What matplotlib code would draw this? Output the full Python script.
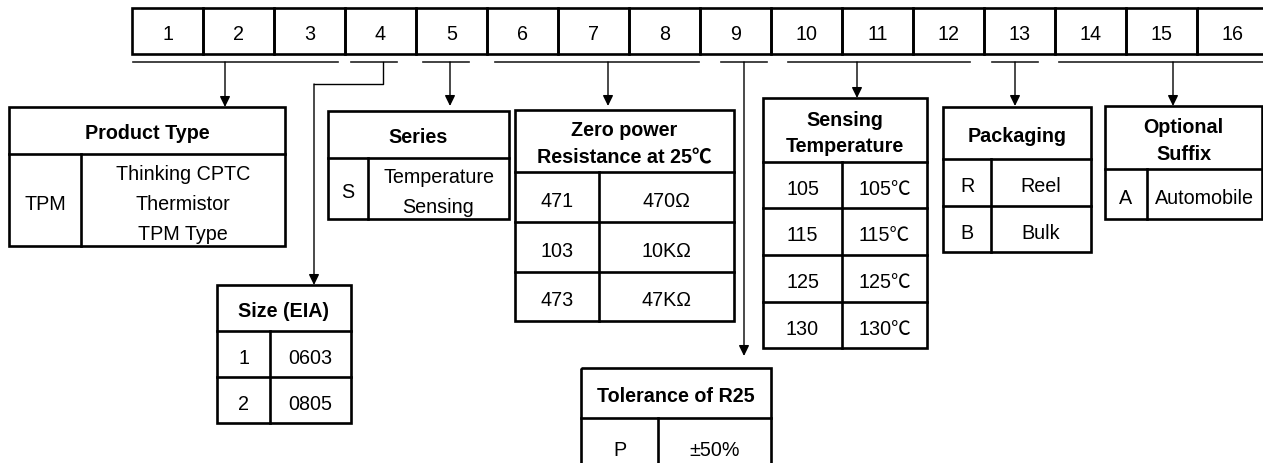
import matplotlib
matplotlib.use("Agg")
import matplotlib.pyplot as plt
from matplotlib.patches import Rectangle

# part number positions and how they group together
positions = ["1", "2", "3", "4", "5", "6", "7", "8",
             "9", "10", "11", "12", "13", "14", "15", "16"]
groups = [(1, 3), (4, 4), (5, 5), (6, 8), (9, 9), (10, 12), (13, 13), (14, 16)]

# table contents
product_title = "Product Type"
product_rows = [("TPM", "Thinking CPTC\nThermistor\nTPM Type")]
size_title = "Size (EIA)"
size_rows = [("1", "0603"), ("2", "0805")]
series_title = "Series"
series_rows = [("S", "Temperature\nSensing")]
resist_title = "Zero power\nResistance at 25\u2103"
resist_rows = [("471", "470\u03a9"), ("103", "10K\u03a9"), ("473", "47K\u03a9")]
tol_title = "Tolerance of R25"
tol_rows = [("P", "\u00b150%")]
temp_title = "Sensing\nTemperature"
temp_rows = [("105", "105\u2103"), ("115", "115\u2103"), ("125", "125\u2103"), ("130", "130\u2103")]
pack_title = "Packaging"
pack_rows = [("R", "Reel"), ("B", "Bulk")]
suffix_title = "Optional\nSuffix"
suffix_rows = [("A", "Automobile")]

plt.rcParams['font.family'] = ['Liberation Sans', 'Noto Sans CJK SC', 'DejaVu Sans']
FS = 14.2
LW = 1.9

fig = plt.figure(figsize=(12.63, 4.64), dpi=100)
ax = fig.add_axes([0, 0, 1, 1])
ax.set_xlim(0, 1263)
ax.set_ylim(464, 0)
ax.axis('off')


def put_lines(txt, x, y, gap, bold=False):
    lines = txt.split("\n")
    n = len(lines)
    for k, s in enumerate(lines):
        yy = y + (k - (n - 1) / 2) * gap
        ax.text(x, yy, s, ha='center', va='center_baseline', fontsize=FS,
                fontweight='bold' if bold else 'normal')


def draw_table(title, rows, x0, x1, xdiv, edges):
    top, bot = edges[0], edges[-1]
    ax.add_patch(Rectangle((x0, top), x1 - x0, bot - top, fill=False,
                           ec='black', lw=LW))
    for e in edges[1:-1]:
        ax.plot([x0, x1], [e, e], color='black', lw=LW)
    ax.plot([xdiv, xdiv], [edges[1], bot], color='black', lw=LW)
    put_lines(title, (x0 + x1) / 2, (edges[0] + edges[1]) / 2 + 0.5, 27, bold=True)
    for (code, val), ya, yb in zip(rows, edges[1:-1], edges[2:]):
        put_lines(code, (x0 + xdiv) / 2, (ya + yb) / 2 + 1.5, 30)
        put_lines(val, (xdiv + x1) / 2, (ya + yb) / 2 + 1.5, 30)


# top row of position boxes
cell_x0, cell_w, row_top, row_bot = 132, 71, 9, 55
for i, p in enumerate(positions):
    ax.add_patch(Rectangle((cell_x0 + i * cell_w, row_top), cell_w, row_bot - row_top,
                           fill=False, ec='black', lw=LW))
    ax.text(cell_x0 + (i + 0.5) * cell_w, (row_top + row_bot) / 2, p,
            ha='center', va='center_baseline', fontsize=FS)

# underlines and arrows for each group
under_y = 63
under_x = [(133, 338), (351, 397), (423, 469), (495, 699),
           (721, 767), (788, 970), (992, 1038), (1059, 1263)]
arrow_x = [225, 383, 450, 608, 744, 857, 1015, 1173]
arrow_tip = [108, 286, 107, 107, 357, 99, 107, 107]
for (a, b), axx, tip in zip(under_x, arrow_x, arrow_tip):
    ax.plot([a, b], [under_y, under_y], color='#222222', lw=1.2)
    start_x, start_y = axx, under_y
    if axx == 383:
        # size group is routed left around the series table
        ax.plot([383, 383, 314], [under_y, 85, 85], color='black', lw=1.0)
        start_x, start_y = 314, 85
    ax.annotate("", xy=(start_x, tip), xytext=(start_x, start_y),
                arrowprops=dict(arrowstyle='-|>,head_length=0.45,head_width=0.22',
                                mutation_scale=14, color='black', lw=1.0,
                                shrinkA=0, shrinkB=0))

draw_table(product_title, product_rows, 9, 285, 81, [108, 155, 247])
draw_table(size_title, size_rows, 217, 351, 270, [286, 332, 378, 424])
draw_table(series_title, series_rows, 328, 509, 368, [112, 159, 220])
draw_table(resist_title, resist_rows, 515, 734, 599, [111, 173, 223, 273, 322])
draw_table(tol_title, tol_rows, 581, 771, 658, [369, 419, 475])
draw_table(temp_title, temp_rows, 763, 927, 842, [99, 163, 209, 256, 303, 349])
draw_table(pack_title, pack_rows, 943, 1091, 991, [108, 160, 207, 253])
draw_table(suffix_title, suffix_rows, 1105, 1262, 1147, [107, 170, 220])

fig.savefig("out.png", dpi=100)
